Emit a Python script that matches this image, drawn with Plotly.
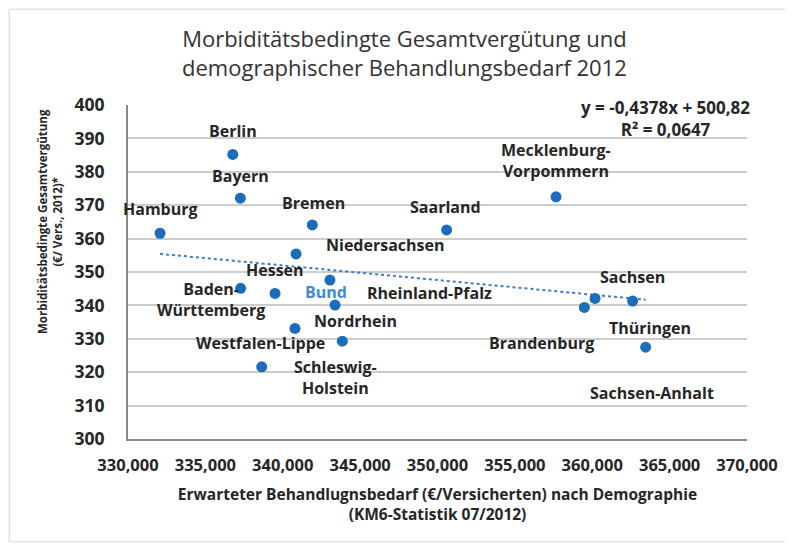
import numpy as np
import plotly.graph_objects as go

# KV-Regionen: erwarteter Behandlungsbedarf (x) vs. MGV je Versicherten (y)
regions = ["Berlin", "Bayern", "Hamburg", "Bremen", "Saarland",
           "Mecklenburg-<br>Vorpommern", "Hessen", "Baden-<br>Württemberg",
           "Niedersachsen", "Bund", "Rheinland-Pfalz", "Nordrhein",
           "Westfalen-Lippe", "Schleswig-<br>Holstein", "Sachsen", "Thüringen",
           "Brandenburg", "Sachsen-Anhalt"]
bedarf = [336770, 337260, 332070, 341910, 350590,
          357660, 339500, 337280,
          340860, 343050, 343380, 340790,
          338640, 343850, 362610, 363450,
          359490, 360180]
mgv = [385.2, 372.1, 361.6, 364.1, 362.6,
       372.5, 343.6, 345.1,
       355.4, 347.6, 340.1, 333.1,
       321.6, 329.3, 341.3, 327.5,
       339.4, 342.1]

# Trendlinie aus Excel: y = -0,4378x + 500,82 (x in Tsd.)
slope = -0.4378
intercept = 500.82

# label offsets in px (dx, dy) relativ zum Punkt
offs = {
    "Berlin": (0, -23), "Bayern": (0, -22), "Hamburg": (0, -24),
    "Bremen": (1, -22), "Saarland": (-1, -23),
    "Mecklenburg-<br>Vorpommern": (0, -36), "Hessen": (0, -23),
    "Baden-<br>Württemberg": (-30, 11), "Niedersachsen": (89, -9),
    "Bund": (-4, 12), "Rheinland-Pfalz": (94, -12), "Nordrhein": (61, -7),
    "Westfalen-Lippe": (-1, -24), "Schleswig-<br>Holstein": (-7, 36),
    "Sachsen": (0, -24), "Thüringen": (4, -19), "Brandenburg": (-43, 36),
    "Sachsen-Anhalt": (57, 95),
}

fnt = "Open Sans"
txtclr = "#262626"
dotclr = "#1c6cbc"

fig = go.Figure()

tx = np.array([min(bedarf), max(bedarf)])
fig.add_trace(go.Scatter(
    x=tx, y=slope*tx/1000 + intercept,
    mode='lines',
    line=dict(color="#3b7cc8", width=2, dash="dot"),
    hoverinfo="skip"))

fig.add_trace(go.Scatter(
    x=bedarf, y=mgv,
    mode='markers',
    marker=dict(size=11, color=dotclr),
    text=regions))

for name, xv, yv in zip(regions, bedarf, mgv):
    dx, dy = offs[name]
    fig.add_annotation(
        x=xv, y=yv, xref="x", yref="y", text=name, showarrow=False,
        xshift=dx, yshift=-dy, align="center",
        font=dict(family=fnt, size=16, weight="bold",
                  color="#3f8ad0" if name == "Bund" else txtclr))

fig.add_annotation(
    x=0.868, y=0.960, xref="paper", yref="paper",
    xanchor="center", yanchor="middle",
    text="y = -0,4378x + 500,82<br>R² = 0,0647", showarrow=False,
    align="center", font=dict(family=fnt, size=17, weight="bold", color=txtclr))

# y-Achsentitel (liegt etwas oberhalb der Achsenmitte)
fig.add_annotation(
    x=-0.126, y=(439-222)/334, xref="paper", yref="paper",
    xanchor="center", yanchor="middle",
    text="Morbiditätsbedingte Gesamtvergütung<br>(€/ Vers., 2012)*",
    showarrow=False, textangle=-90, align="center",
    font=dict(family=fnt, size=11.5, weight="bold", color=txtclr))

fig.update_xaxes(
    range=[330000, 370000], dtick=5000, tickformat=",",
    showgrid=False, zeroline=False, showline=True, linewidth=2, linecolor="#8a8a8a",
    ticks="", ticklabelstandoff=10,
    tickfont=dict(family=fnt, size=16.5, weight="bold", color=txtclr),
    title=dict(text="Erwarteter Behandlugnsbedarf (€/Versicherten) nach Demographie<br>(KM6-Statistik 07/2012)",
               font=dict(family=fnt, size=15.5, weight="bold", color=txtclr), standoff=14))
fig.update_yaxes(
    range=[300, 400], dtick=10,
    showgrid=True, gridcolor="#cccccc", gridwidth=1.5, zeroline=False,
    showline=True, linewidth=2, linecolor="#8a8a8a",
    ticks="", ticklabelstandoff=18,
    tickfont=dict(family=fnt, size=17.5, weight="bold", color=txtclr))

# duenner Rahmen um das Diagramm
fig.add_shape(type="rect", xref="paper", yref="paper",
              x0=-0.192, x1=1.068, y0=-0.308, y1=1.287,
              line=dict(color="#d4d4d4", width=1))

fig.update_layout(
    title=dict(text="Morbiditätsbedingte Gesamtvergütung und<br>demographischer Behandlungsbedarf 2012",
               x=0.505, xanchor="center", y=0.9275, yanchor="middle",
               font=dict(family=fnt, size=22, color="#333333")),
    showlegend=False, template="plotly_white",
    plot_bgcolor="white", paper_bgcolor="white",
    width=785, height=538, margin=dict(l=120, r=46, t=97, b=107))

fig.write_html("out.html")
